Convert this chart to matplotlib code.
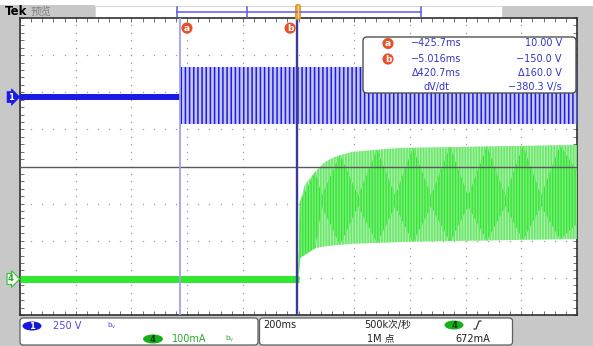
import numpy as np
import matplotlib
matplotlib.use('Agg')
import matplotlib.pyplot as plt
import matplotlib.transforms as mtransforms
from matplotlib.patches import FancyBboxPatch, Rectangle, Ellipse

plt.rcParams['font.family'] = ['DejaVu Sans', 'Noto Sans CJK SC']
plt.rcParams['hatch.linewidth'] = 1.1

# ---------------- data ----------------
time_per_div_ms = 200
ch1_volts_per_div = 250
ch4_ma_per_div = 100
ch1_offset_div = 1.87
ch4_offset_div = -3.03

cursor_a_ms = -425.7
cursor_b_ms = -5.016
cursor_a_v = 10.00
cursor_b_v = -150.0

# channel 1 (blue, volts): flat, then oscillating band (envelope)
ch1_flat_t = [-1000, -425.7]
ch1_flat_v = [0, 0]
ch1_env_t = [-425.7, 1000]
ch1_env_top_v = [200, 200]
ch1_env_bot_v = [-182, -182]

# channel 4 (green, mA): flat, then rising oscillating band (envelope)
ch4_flat_t = [-1000, 0]
ch4_flat_i = [0, 0]
ch4_env_t = [0, 3, 5, 23, 59, 95, 131, 192, 311, 372, 1000]
ch4_env_top = [0, 150, 207, 253, 288, 315, 329, 342, 350, 353, 361]
ch4_env_bot = [0, 30, 56, 73, 83, 88, 91, 95, 98, 100, 108]

# beat pattern of channel 4 (dense region), mA
ch4_beat_t = [0, 5, 60, 84, 149, 214, 282, 347, 411, 476, 544, 609, 677, 742, 806, 871, 939, 1000]
ch4_dark_top = [0, 207, 288, 224, 335, 224, 348, 224, 354, 224, 356, 224, 358, 224, 359, 224, 360, 290]
ch4_dark_bot = [0, 56, 83, 196, 92, 196, 97, 196, 99, 196, 101, 196, 103, 196, 105, 196, 107, 150]

W, H = 593, 346
fig = plt.figure(figsize=(W / 100, H / 100), dpi=100)
fig.patch.set_facecolor('white')

GRAY = '#c8c8c8'

# background overlay (pixel coordinates)
bg = fig.add_axes([0, 0, 1, 1], zorder=0)
bg.set_xlim(0, W); bg.set_ylim(H, 0); bg.axis('off')
bg.add_patch(Rectangle((0, 17), 20, H - 17, fc=GRAY, ec='none'))
bg.add_patch(Rectangle((577, 17), W - 577, H - 17, fc=GRAY, ec='none'))
bg.add_patch(Rectangle((0, 315), W, H - 315, fc=GRAY, ec='none'))
bg.add_patch(Rectangle((0, 5), 95, 13, fc=GRAY, ec='none'))
bg.add_patch(Rectangle((502, 6), W - 502, 12, fc=GRAY, ec='none'))
bg.add_patch(Rectangle((95, 6), 407, 12, fc='white', ec='#d0d0d0', lw=0.6))

# main graticule axes
L, R, T, B = 20, 577, 18, 315
ax = fig.add_axes([L / W, (H - B) / H, (R - L) / W, (B - T) / H], zorder=1)
ax.set_facecolor('white')
ax.set_xlim(-5 * time_per_div_ms, 5 * time_per_div_ms)
ax.set_ylim(-4, 4)
ax.set_xticks(np.arange(-1000, 1001, 40))
ax.set_yticks(np.arange(-4, 4.01, 0.2))
ax.tick_params(direction='in', length=3, width=0.7, color='#707070',
               top=True, right=True, labelbottom=False, labelleft=False)
for s in ax.spines.values():
    s.set_color('#303030'); s.set_linewidth(1.2)

# dotted grid
DOT = '#9c9c9c'
gx = np.arange(-1000, 1001, 40)
for k in [-3, -2, -1, 1, 2, 3]:
    ax.plot(gx, np.full_like(gx, k, dtype=float), ls='none', marker='s', ms=0.9,
            mew=0, color=DOT, zorder=1)
gy = np.arange(-4, 4.01, 0.2)
for j in [-4, -3, -2, -1, 1, 2, 3, 4]:
    ax.plot(np.full_like(gy, j * time_per_div_ms), gy, ls='none', marker='s', ms=0.9,
            mew=0, color=DOT, zorder=1)


def y1(v):
    return ch1_offset_div + np.asarray(v, dtype=float) / ch1_volts_per_div


def y4(i):
    return ch4_offset_div + np.asarray(i, dtype=float) / ch4_ma_per_div


# channel 1
ax.plot(ch1_flat_t, y1(ch1_flat_v), color='#1a1ae6', lw=4.3, solid_capstyle='butt', zorder=3)
ax.fill_between(ch1_env_t, y1(ch1_env_top_v), y1(ch1_env_bot_v), facecolor='#c6c6f4',
                edgecolor='#1c1ce6', hatch='||||', linewidth=0, zorder=3)

# channel 4
ax.plot(ch4_flat_t, y4(ch4_flat_i), color='#30e830', lw=5, solid_capstyle='butt', zorder=3)
ax.fill_between(ch4_env_t, y4(ch4_env_top), y4(ch4_env_bot), facecolor='#a8f2a8',
                edgecolor='#6ae66a', hatch='||||||', linewidth=0, zorder=3)
ax.fill_between(ch4_beat_t, y4(ch4_dark_top), y4(ch4_dark_bot), facecolor='#34e434',
                edgecolor='#78ee78', hatch='||||||', linewidth=0, zorder=3)

# center line and cursors
ax.axhline(0, color='#5a5a5a', lw=1.0, zorder=4)
ax.axvline(cursor_a_ms, color='#a0a0f0', lw=1.3, zorder=5)
ax.axvline(cursor_b_ms, color='#3a3a9a', lw=1.7, zorder=5)

blend = mtransforms.blended_transform_factory(ax.transData, ax.transAxes)
for t, lab, dx in [(cursor_a_ms, 'a', 7), (cursor_b_ms, 'b', -7)]:
    ax.annotate(lab, xy=(t, 0.966), xycoords=blend, xytext=(dx, 0), textcoords='offset pixels',
                ha='center', va='center', color='white', fontsize=6.5, fontweight='bold',
                bbox=dict(boxstyle='circle,pad=0.12', fc='#e8502a', ec='none'), zorder=6,
                annotation_clip=False)

# ground markers
blend_y = mtransforms.blended_transform_factory(ax.transAxes, ax.transData)
ax.annotate('1', xy=(0, float(y1(0))), xycoords=blend_y, xytext=(-9, 0), textcoords='offset pixels',
            ha='center', va='center', color='white', fontsize=6, fontweight='bold',
            bbox=dict(boxstyle='rarrow,pad=0.12', fc='#1a1ae6', ec='#1a1ae6', lw=0.5),
            annotation_clip=False, zorder=6)
ax.annotate('4', xy=(0, float(y4(0))), xycoords=blend_y, xytext=(-9, 0), textcoords='offset pixels',
            ha='center', va='center', color='#20b020', fontsize=6, fontweight='bold',
            bbox=dict(boxstyle='rarrow,pad=0.12', fc='white', ec='#30c030', lw=0.8),
            annotation_clip=False, zorder=6)

# foreground overlay (pixel coordinates)
fg = fig.add_axes([0, 0, 1, 1], zorder=2)
fg.set_xlim(0, W); fg.set_ylim(H, 0); fg.axis('off'); fg.patch.set_alpha(0)

# top bar
fg.text(5, 11.5, 'Tek', fontsize=8.5, fontweight='bold', color='black', va='center', ha='left')
fg.text(31, 11.5, '预览', fontsize=7.5, color='#808080', va='center', ha='left')
fg.plot([177, 421], [12, 12], color='#6a6ae6', lw=1.2)
for xv in [177, 247, 421]:
    fg.plot([xv, xv], [7, 17], color='#5a5ae0', lw=1.1)
fg.add_patch(FancyBboxPatch((295.5, 4.5), 5, 15, boxstyle='round,pad=0,rounding_size=2',
                            fc='#f0a030', ec='#e09020', lw=0.6))
fg.plot([298, 298], [6, 17], color='#fad080', lw=1)

# measurement box
MC = '#3535c8'
fg.add_patch(FancyBboxPatch((363, 37), 213, 56, boxstyle='round,pad=0,rounding_size=4',
                            fc='white', ec='#505050', lw=1.0))
rows = [43.5, 59, 73, 87]
for yy, lab in [(rows[0], 'a'), (rows[1], 'b')]:
    fg.text(388, yy, lab, ha='center', va='center', color='white', fontsize=6.5, fontweight='bold',
            bbox=dict(boxstyle='circle,pad=0.12', fc='#e8502a', ec='none'))
dt = cursor_b_ms - cursor_a_ms
dv = cursor_b_v - cursor_a_v
def fmt(x, nd):
    return f'{x:.{nd}f}'.replace('-', '\u2212')
col1 = [fmt(cursor_a_ms, 1) + 'ms', fmt(cursor_b_ms, 3) + 'ms', '\u0394' + fmt(dt, 1) + 'ms', 'dV/dt']
col2 = [fmt(cursor_a_v, 2) + ' V', fmt(cursor_b_v, 1) + ' V', '\u0394' + fmt(abs(dv), 1) + ' V',
        fmt(dv / (dt / 1000.0), 1) + ' V/s']
for yy, s1, s2 in zip(rows, col1, col2):
    fg.text(436, yy, s1, ha='center', va='center', color=MC, fontsize=7)
    fg.text(562, yy, s2, ha='right', va='center', color=MC, fontsize=7)

# bottom boxes
fg.add_patch(FancyBboxPatch((20, 318), 238, 27, boxstyle='round,pad=0,rounding_size=3',
                            fc='white', ec='#606060', lw=0.9))
fg.add_patch(FancyBboxPatch((259.5, 318), 253, 27, boxstyle='round,pad=0,rounding_size=3',
                            fc='white', ec='#606060', lw=0.9))
fg.add_patch(Ellipse((32, 326), 19, 9, fc='#1818d8', ec='none'))
fg.text(32, 326.5, '1', ha='center', va='center', color='white', fontsize=6, fontweight='bold')
fg.text(53, 326, f'{ch1_volts_per_div} V', ha='left', va='center', color='#4a4ae0', fontsize=7)
fg.text(112, 326, r'$\mathregular{b_v}$', ha='center', va='center', color='#4a4ae0', fontsize=5)
fg.add_patch(Ellipse((153, 339), 20, 9, fc='#18b018', ec='none'))
fg.text(153, 339.5, '4', ha='center', va='center', color='#0a400a', fontsize=6, fontweight='bold')
fg.text(172, 339, f'{ch4_ma_per_div}mA', ha='left', va='center', color='#28a828', fontsize=7)
fg.text(230, 339, r'$\mathregular{b_v}$', ha='center', va='center', color='#28a828', fontsize=5)

fg.text(263, 325, f'{time_per_div_ms}ms', ha='left', va='center', color='#202020', fontsize=7)
fg.text(364, 325, '500k次/秒', ha='left', va='center', color='#202020', fontsize=7)
fg.text(367, 338.5, '1M 点', ha='left', va='center', color='#202020', fontsize=7)
fg.add_patch(Ellipse((454, 325), 19, 9, fc='#18b018', ec='none'))
fg.text(454, 325.5, '4', ha='center', va='center', color='#0a400a', fontsize=6, fontweight='bold')
fg.plot([474, 476, 479, 481], [329, 329, 321, 321], color='#202020', lw=0.8)
fg.text(455, 338.5, '672mA', ha='left', va='center', color='#202020', fontsize=7)

fig.savefig('out.png', dpi=100)
